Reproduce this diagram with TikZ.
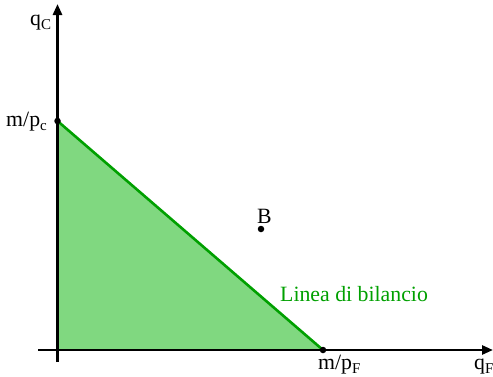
\documentclass[tikz,border=0pt]{standalone}
\usepackage{fontspec}
\setmainfont{Liberation Serif}
\usepackage{tikz}
\usetikzlibrary{arrows.meta,positioning}
\definecolor{budgetgreen}{RGB}{0,160,0}
\definecolor{budgetfill}{RGB}{128,216,128}
\newcommand{\lowidx}[1]{\raisebox{-4pt}{\fontsize{15}{17}\selectfont #1}}

\begin{document}
\begin{tikzpicture}[x=1pt,y=1pt,
  axis/.style={line width=2.6pt,-{Triangle[length=11pt,width=9pt]}},
  budget/.style={line width=2.6pt,draw=budgetgreen},
  lbl/.style={inner sep=0pt,font=\fontsize{21.8}{26}\selectfont},
  dot/.style={circle,fill=black,inner sep=0pt,minimum size=6.5pt}]
  \useasboundingbox (0,0) rectangle (493,376);
  % points of the picture
  \coordinate (o) at (57.5,26);
  \coordinate (ytop) at (57.5,372);
  \coordinate (ybot) at (57.5,14);
  \coordinate (xleft) at (38,26);
  \coordinate (xright) at (493,26);
  \coordinate (mpc) at (57.5,255);
  \coordinate (mpf) at (323,26);
  % budget set
  \fill[budgetfill] (o) -- (mpc) -- (mpf) -- cycle;
  \draw[axis] (ybot) -- (ytop);
  \draw[axis] (xleft) -- (xright);
  \draw[budget] (mpc) -- (mpf);
  \node[dot] (dc) at (mpc) {};
  \node[dot] (df) at (mpf) {};
  \node[dot] (b) at (261,147) {};
  % labels
  \node[lbl,anchor=base west] (qc) at (30,351) {q\lowidx{C}};
  \node[lbl,anchor=base east] (lc) at (47,250) {m/p\lowidx{c}};
  \node[lbl,anchor=base west] (lf) at (318,6.5) {m/p\lowidx{F}};
  \node[lbl,anchor=base west] (qf) at (474,6.5) {q\lowidx{F}};
  \node[lbl,anchor=base west] (lb) at (257,153) {B};
  \node[lbl,anchor=base west,text=budgetgreen] (lin) at (280,75) {Linea di bilancio};
\end{tikzpicture}
\end{document}
